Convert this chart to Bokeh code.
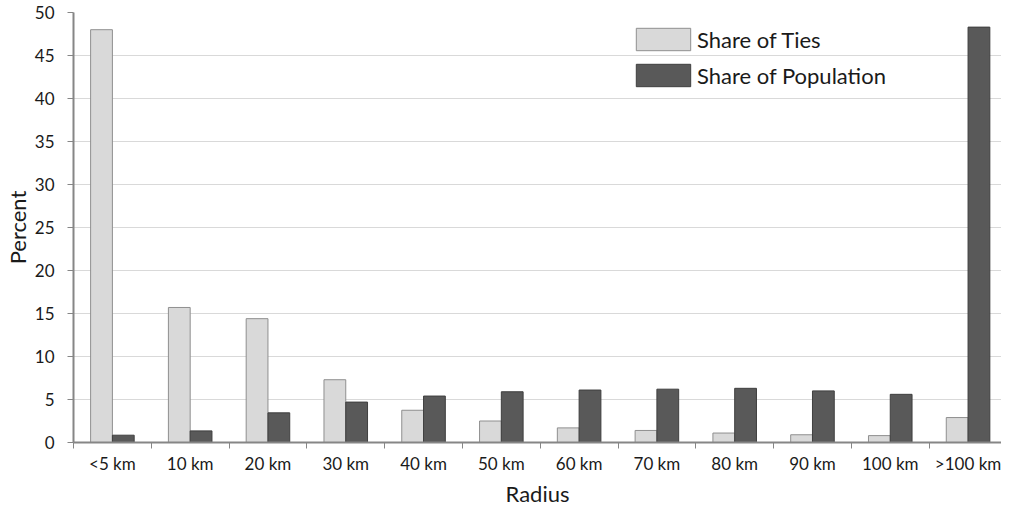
import numpy as np
from bokeh.plotting import figure
from bokeh.models import ColumnDataSource, Range1d, FixedTicker, Legend, LegendItem
from bokeh.transform import dodge
from bokeh.embed import file_html
from bokeh.resources import INLINE

categories = ["<5 km", "10 km", "20 km", "30 km", "40 km", "50 km", "60 km",
              "70 km", "80 km", "90 km", "100 km", ">100 km"]
share_ties = [48.0, 15.7, 14.4, 7.3, 3.75, 2.5, 1.7, 1.4, 1.1, 0.9, 0.8, 2.9]
share_population = [0.85, 1.35, 3.45, 4.7, 5.4, 5.9, 6.1, 6.2, 6.3, 6.0, 5.6, 48.3]
y_ticks = [0, 5, 10, 15, 20, 25, 30, 35, 40, 45, 50]

FONT = "Lato"
TEXT = "#1a1a1a"
centers = [i + 0.5 for i in range(len(categories))]
source = ColumnDataSource(dict(x=centers, ties=share_ties, pop=share_population))

p = figure(width=1001, height=509, output_backend="svg", toolbar_location=None,
           x_range=Range1d(0, 11.93), y_range=Range1d(0, 50))
p.min_border_left = 66
p.min_border_top = 12
p.min_border_bottom = 60
p.min_border_right = 0
p.outline_line_color = None
p.background_fill_color = "white"

bw = 0.28
r1 = p.vbar(x=dodge("x", -bw / 2, range=p.x_range), top="ties", width=bw, source=source,
            fill_color="#d9d9d9", line_color="#8f8f8f", line_width=1)
r2 = p.vbar(x=dodge("x", bw / 2, range=p.x_range), top="pop", width=bw, source=source,
            fill_color="#595959", line_color="#3f3f3f", line_width=1)

# x axis: labels centered under categories, ticks at category boundaries
p.xaxis.ticker = FixedTicker(ticks=centers, minor_ticks=list(range(len(categories) + 1)))
p.xaxis.major_label_overrides = {c: lab for c, lab in zip(centers, categories)}
p.xaxis.major_tick_line_color = None
p.xaxis.minor_tick_line_color = "#868686"
p.xaxis.minor_tick_out = 6
p.xaxis.minor_tick_in = 0
p.xaxis.axis_line_color = "#868686"
p.xaxis.axis_line_width = 2
p.xaxis.major_label_standoff = 4
p.xaxis.axis_label = "Radius"
p.xaxis.axis_label_standoff = 3

p.yaxis.ticker = FixedTicker(ticks=y_ticks)
p.yaxis.axis_line_color = "#868686"
p.yaxis.axis_line_width = 2
p.yaxis.major_tick_line_color = "#868686"
p.yaxis.major_tick_out = 6
p.yaxis.major_tick_in = 0
p.yaxis.minor_tick_line_color = None
p.yaxis.major_label_standoff = 13
p.yaxis.axis_label = "Percent"
p.yaxis.axis_label_standoff = 1

for ax in (p.xaxis, p.yaxis):
    ax.major_label_text_font = FONT
    ax.major_label_text_font_size = "17px"
    ax.major_label_text_color = TEXT
    ax.axis_label_text_font = FONT
    ax.axis_label_text_font_size = "22px"
    ax.axis_label_text_font_style = "normal"
    ax.axis_label_text_color = TEXT

p.xgrid.grid_line_color = None
p.ygrid.ticker = FixedTicker(ticks=y_ticks)
p.ygrid.grid_line_color = "#d9d9d9"
p.ygrid.grid_line_width = 1

legend = Legend(items=[LegendItem(label="Share of Ties", renderers=[r1]),
                       LegendItem(label="Share of Population", renderers=[r2])],
                location=(556, 353))
legend.background_fill_alpha = 0
legend.border_line_color = None
legend.padding = 0
legend.margin = 0
legend.glyph_width = 68
legend.glyph_height = 28
legend.label_height = 28
legend.spacing = 8
legend.label_standoff = 0
legend.label_text_font = FONT
legend.label_text_font_size = "22px"
legend.label_text_color = TEXT
p.add_layout(legend)

open("out.html", "w").write(file_html(p, INLINE))
